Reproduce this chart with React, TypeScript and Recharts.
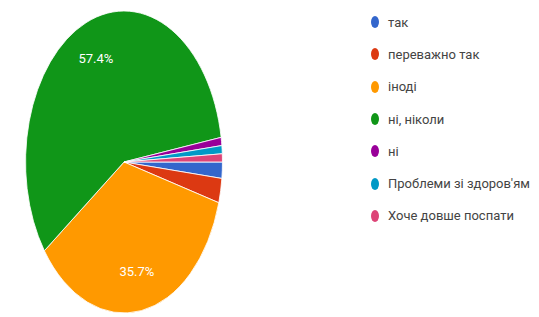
import React from "react";
import { PieChart, Pie, Cell, Legend } from "recharts";

const answers = [
  "так",
  "переважно так",
  "іноді",
  "ні, ніколи",
  "ні",
  "Проблеми зі здоров'ям",
  "Хоче довше поспати",
];
const counts = [2, 3, 41, 66, 1, 1, 1];
const colors = ["#3366cc", "#dc3912", "#ff9900", "#109618", "#990099", "#0099c6", "#dd4477"];

const data = answers.map((name, i) => ({ name, value: counts[i] }));

// the reference is squeezed sideways, so the pie is an ellipse
const SQUASH = 0.652;
const CX = 124;
const CY = 162;
const RAD = Math.PI / 180;

const renderLabel = (props: any) => {
  const { cx, cy, midAngle, outerRadius, percent } = props;
  if (percent < 0.1) return null;
  const r = outerRadius * 0.74;
  const x = cx + r * Math.cos(-midAngle * RAD) * SQUASH;
  const y = cy + r * Math.sin(-midAngle * RAD);
  return (
    <text x={x} y={y} fill="#fff" fontSize={13} textAnchor="middle" dominantBaseline="central">
      {(percent * 100).toFixed(1)}%
    </text>
  );
};

const renderLegend = () => (
  <div style={{ display: "flex", flexDirection: "column" }}>
    {answers.map((name, i) => (
      <div
        key={name}
        style={{ display: "flex", alignItems: "center", height: 32.3, color: "#444", fontSize: 13 }}
      >
        <span
          style={{
            display: "inline-block",
            width: 8,
            height: 12,
            borderRadius: "50%",
            background: colors[i],
            marginRight: 9,
          }}
        />
        {name}
      </div>
    ))}
  </div>
);

export default function App() {
  return (
    <div
      style={{
        position: "absolute",
        left: 0,
        top: 0,
        width: 539,
        height: 317,
        background: "#fff",
        fontFamily: "Roboto, sans-serif",
      }}
    >
      <style>{`path.recharts-sector { transform: scaleX(${SQUASH}); transform-origin: ${CX}px ${CY}px; }`}</style>
      <PieChart width={539} height={317} margin={{ top: 0, right: 0, bottom: 0, left: 0 }}>
        <Pie
          data={data}
          dataKey="value"
          nameKey="name"
          cx={CX}
          cy={CY}
          outerRadius={151}
          startAngle={0}
          endAngle={-360}
          stroke="#fff"
          strokeWidth={1}
          label={renderLabel}
          labelLine={false}
          isAnimationActive={false}
        >
          {data.map((d, i) => (
            <Cell key={d.name} fill={colors[i]} />
          ))}
        </Pie>
        <Legend
          layout="vertical"
          verticalAlign="top"
          align="right"
          content={renderLegend}
          wrapperStyle={{ left: 371, top: 6, width: 168 }}
        />
      </PieChart>
    </div>
  );
}
